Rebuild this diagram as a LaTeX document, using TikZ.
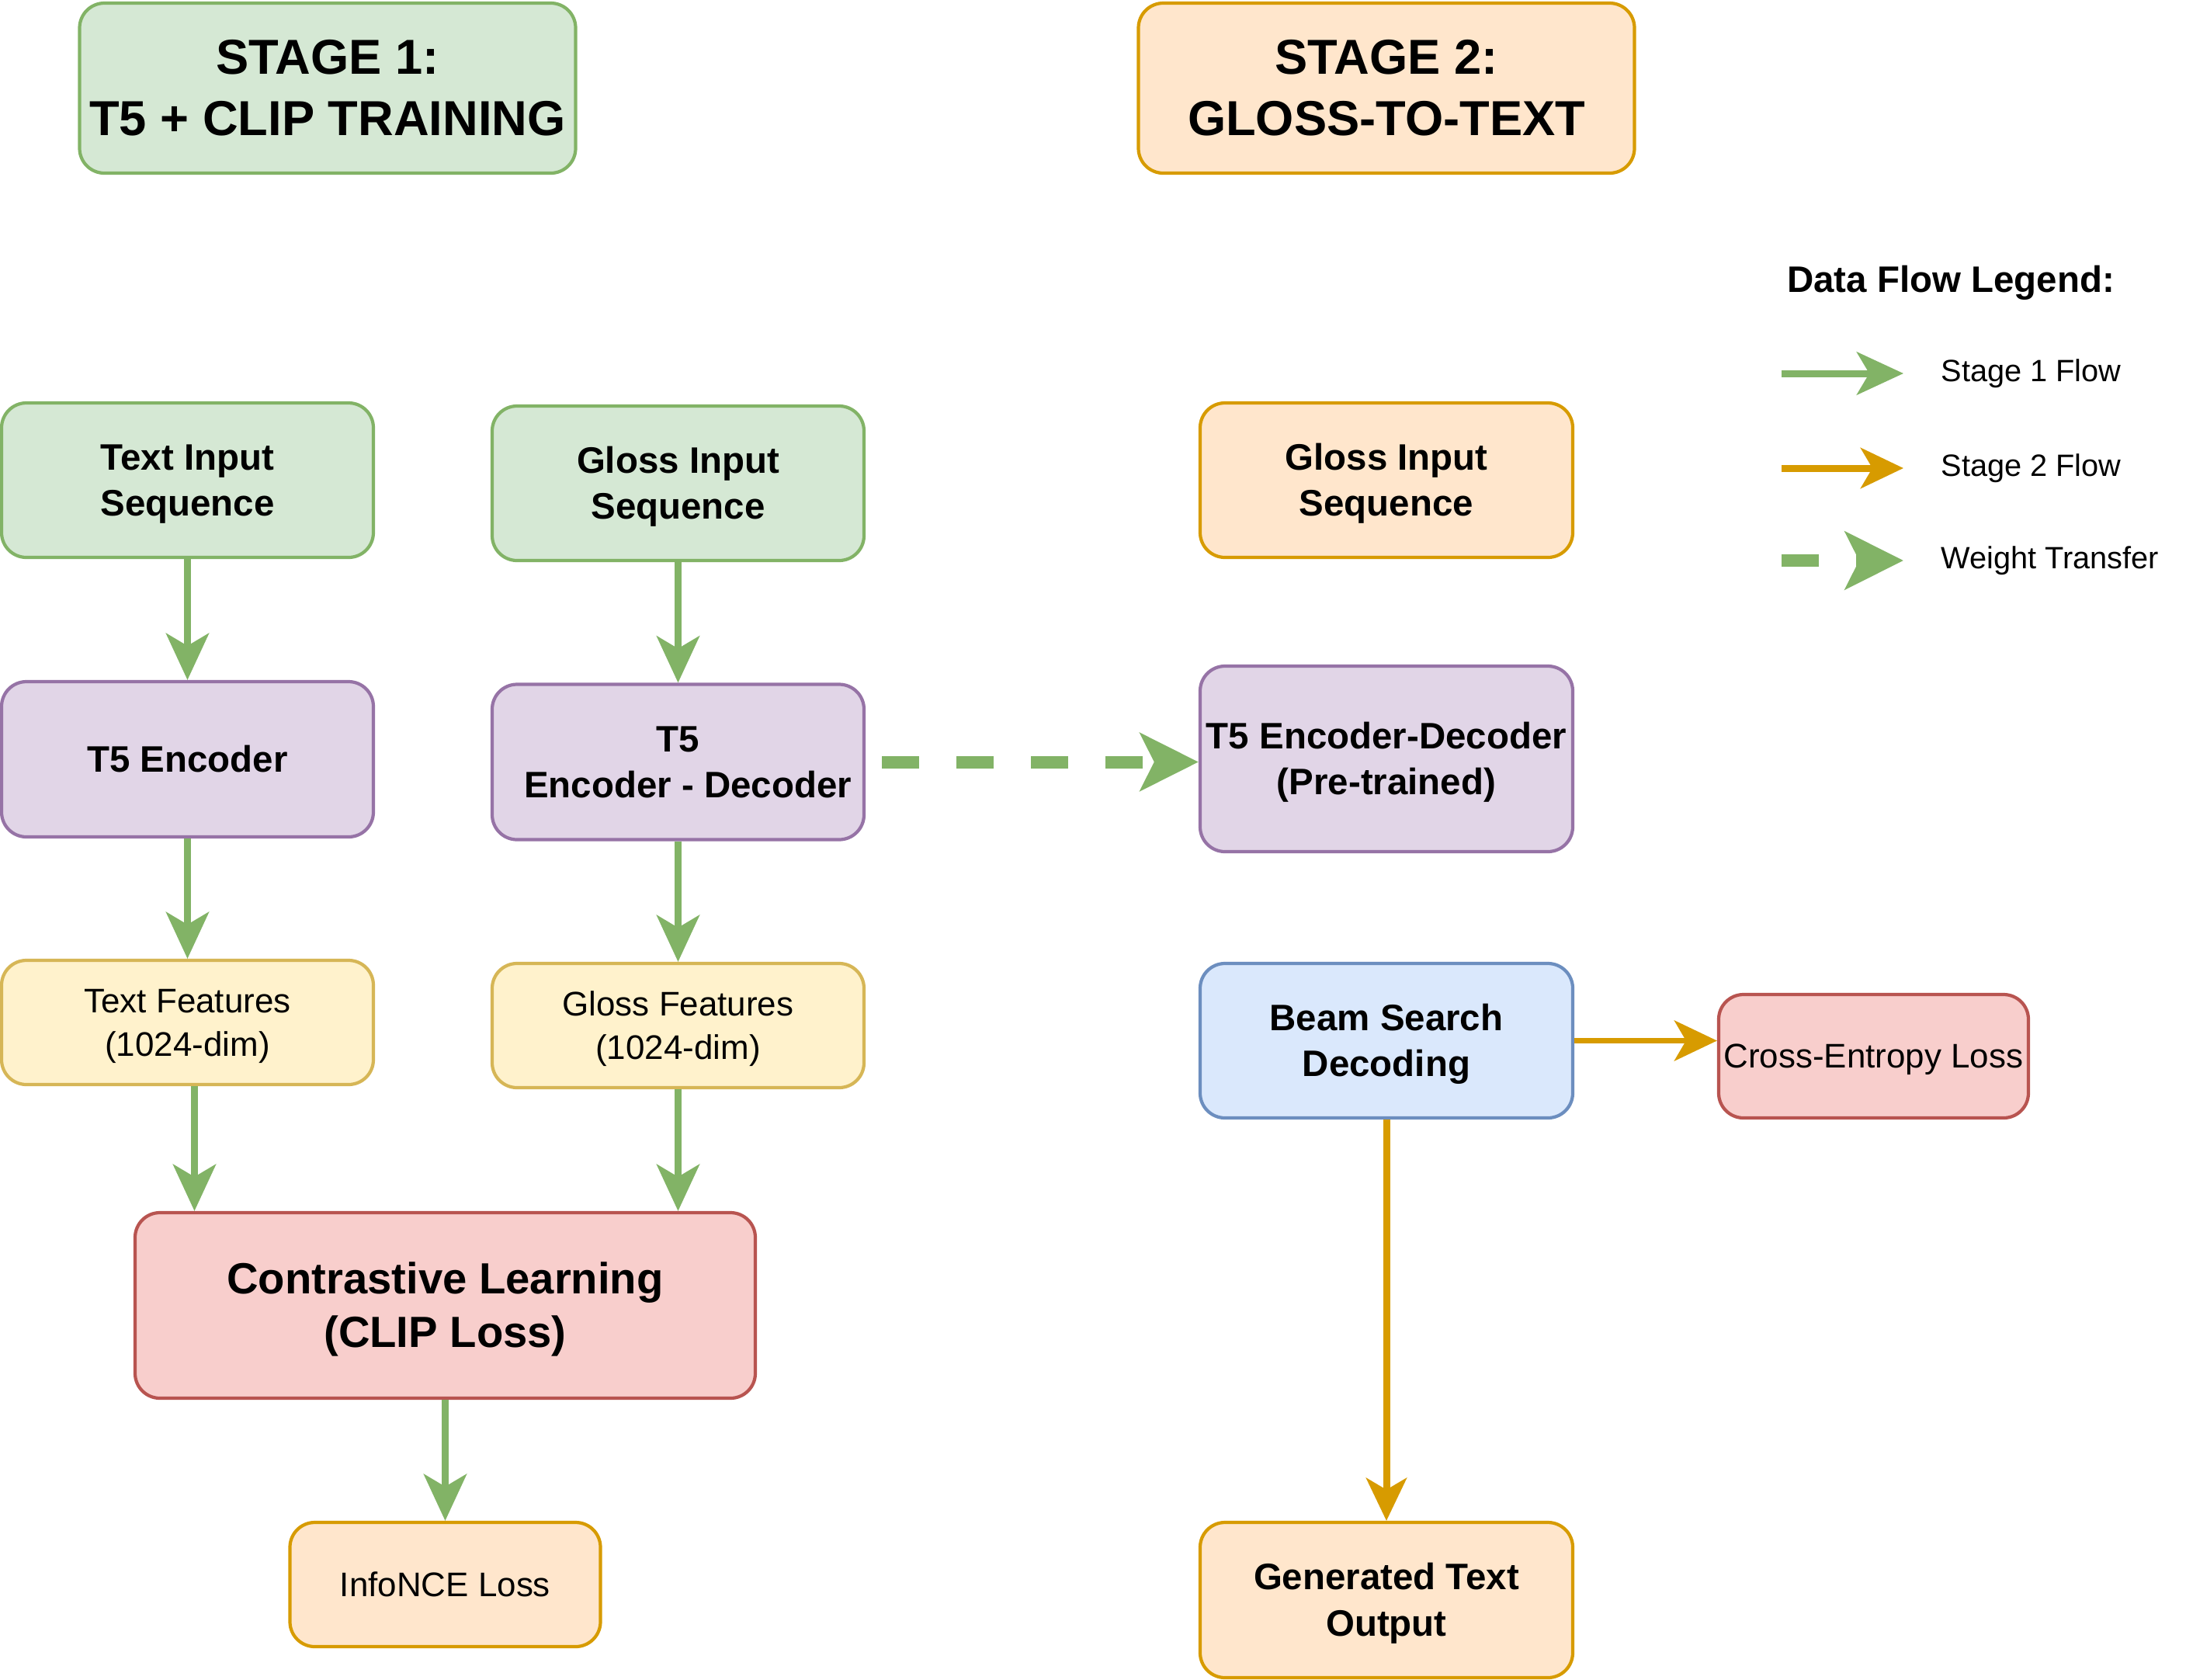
\documentclass[tikz,border=0pt]{standalone}
\usepackage{fontspec}
\setmainfont{Liberation Sans}
\usetikzlibrary{arrows.meta, positioning}
\usepackage{xcolor}
\definecolor{greenfill}{HTML}{D5E8D4}
\definecolor{greenline}{HTML}{82B366}
\definecolor{purplefill}{HTML}{E1D5E7}
\definecolor{purpleline}{HTML}{9673A6}
\definecolor{yellowfill}{HTML}{FFF2CC}
\definecolor{yellowline}{HTML}{D6B656}
\definecolor{orangefill}{HTML}{FFE6CC}
\definecolor{orangeline}{HTML}{D79B00}
\definecolor{redfill}{HTML}{F8CECC}
\definecolor{redline}{HTML}{B85450}
\definecolor{bluefill}{HTML}{DAE8FC}
\definecolor{blueline}{HTML}{6C8EBF}
% full ascent for the first line of a box
\newcommand{\tstrut}{\rule{0pt}{0.905em}}

\begin{document}
\begin{tikzpicture}
    \tikzstyle{block}=[rectangle, rounded corners=0.32cm, line width=1.2pt, align=center, inner sep=0pt, font=\fontsize{13.5}{17}\selectfont\bfseries,
        execute at begin node={\tstrut}, execute at end node={\rule[-0.212em]{0pt}{0.212em}}]
    \tikzstyle{plain block}=[block, font=\fontsize{12.5}{15.8}\selectfont]
    \tikzstyle{stage box}=[block, minimum width=6.39cm, minimum height=2.19cm, font=\fontsize{18}{22.5}\selectfont\bfseries]
    \tikzstyle{input block}=[block, fill=greenfill, draw=greenline, minimum width=4.79cm, minimum height=1.99cm]
    \tikzstyle{model block}=[block, fill=purplefill, draw=purpleline, minimum width=4.79cm, minimum height=2cm]
    \tikzstyle{feature block}=[plain block, fill=yellowfill, draw=yellowline, minimum width=4.79cm, minimum height=1.6cm]
    \tikzstyle{flow one}=[draw=greenline, line width=0.09cm, -{Stealth[length=0.6cm, width=0.55cm, inset=0.16cm]}]
    \tikzstyle{flow two}=[draw=orangeline, line width=0.09cm, -{Stealth[length=0.55cm, width=0.52cm, inset=0.15cm]}]
    \tikzstyle{weight transfer}=[draw=greenline, line width=0.16cm, dash pattern=on 0.48cm off 0.48cm, -{Stealth[length=0.75cm, width=0.74cm, inset=0.18cm]}]
    \tikzstyle{legend text}=[anchor=west, inner sep=0pt, font=\fontsize{11.3}{13}\selectfont]

    \useasboundingbox (0,0) rectangle (28.16,-21.64);

    % Stage headers
    \node[stage box, fill=greenfill, draw=greenline] (s1) at (4.22,-1.135) {\tstrut STAGE 1:\\T5 + CLIP TRAINING};
    \node[stage box, fill=orangefill, draw=orangeline] (s2) at (17.86,-1.135) {\tstrut STAGE 2:\\GLOSS-TO-TEXT};

    % Stage 1, text branch
    \node[input block] (txtin) at (2.415,-6.185) {\tstrut Text Input\\Sequence};
    \node[model block, below of=txtin, node distance=3.595cm] (t5enc) {T5 Encoder};
    \node[feature block, below of=t5enc, node distance=3.39cm] (txtft) {\tstrut Text Features\\(1024-dim)};

    % Stage 1, gloss branch
    \node[input block] (glin) at (8.735,-6.225) {\tstrut Gloss Input\\Sequence};
    \node[model block, below of=glin, node distance=3.59cm] (t5ed) {\tstrut T5\\\hspace*{0.25cm}Encoder - Decoder};
    \node[feature block, below of=t5ed, node distance=3.395cm] (glft) {\tstrut Gloss Features\\(1024-dim)};

    \node[block, fill=redfill, draw=redline, minimum width=7.99cm, minimum height=2.39cm, font=\fontsize{16}{19.4}\selectfont\bfseries] (clip) at (5.735,-16.815) {\tstrut Contrastive Learning\\(CLIP Loss)};
    \node[plain block, fill=orangefill, draw=orangeline, minimum width=4cm, minimum height=1.6cm] (info) at (5.735,-20.41) {InfoNCE Loss};

    % Stage 2
    \node[input block, fill=orangefill, draw=orangeline, minimum width=4.8cm] (glin2) at (17.86,-6.185) {\tstrut Gloss Input\\Sequence};
    \node[model block, minimum width=4.8cm, minimum height=2.39cm] (t5pre) at (17.86,-9.775) {\tstrut T5 Encoder-Decoder\\(Pre-trained)};
    \node[block, fill=bluefill, draw=blueline, minimum width=4.8cm, minimum height=1.99cm] (beam) at (17.86,-13.405) {\tstrut Beam Search\\Decoding};
    \node[plain block, fill=redfill, draw=redline, minimum width=3.99cm, minimum height=1.59cm] (ce) at (24.135,-13.605) {Cross-Entropy Loss};
    \node[block, fill=orangefill, draw=orangeline, minimum width=4.8cm, minimum height=2cm] (gen) at (17.86,-20.61) {\tstrut Generated Text\\Output};

    % Stage 1 flow
    \draw[flow one] (txtin) -- (t5enc);
    \draw[flow one] (t5enc) -- (txtft);
    \draw[flow one] ([xshift=0.09cm]txtft.south) -- ([xshift=0.09cm]txtft.south |- clip.north);
    \draw[flow one] (glin) -- (t5ed);
    \draw[flow one] (t5ed) -- (glft);
    \draw[flow one] (glft.south) -- (glft.south |- clip.north);
    \draw[flow one] (clip) -- (info);

    % weights go over to stage 2
    \draw[weight transfer] ([xshift=0.21cm]t5ed.east) -- (t5pre.west |- t5ed.east);

    % Stage 2 flow
    \draw[flow two] (beam) -- (gen);
    \draw[flow two, line width=0.07cm] (beam.east) -- (beam.east -| ce.west);

    % Legend
    \node[font=\fontsize{13.5}{17}\selectfont\bfseries] (lgtitle) at (25.13,-3.64) {Data Flow Legend:};
    \foreach \i/\y/\sty/\lbl in {1/4.81/flow one/Stage 1 Flow, 2/6.03/flow two/Stage 2 Flow, 3/7.22/weight transfer/Weight Transfer}
    {
        \coordinate (lg\i a) at (22.95,-\y);
        \coordinate (lg\i b) at (24.52,-\y);
        \draw[\sty] (lg\i a) -- (lg\i b);
        \node[legend text] (lgt\i) at (25.0,-\y) {\lbl};
    }
\end{tikzpicture}
\end{document}
